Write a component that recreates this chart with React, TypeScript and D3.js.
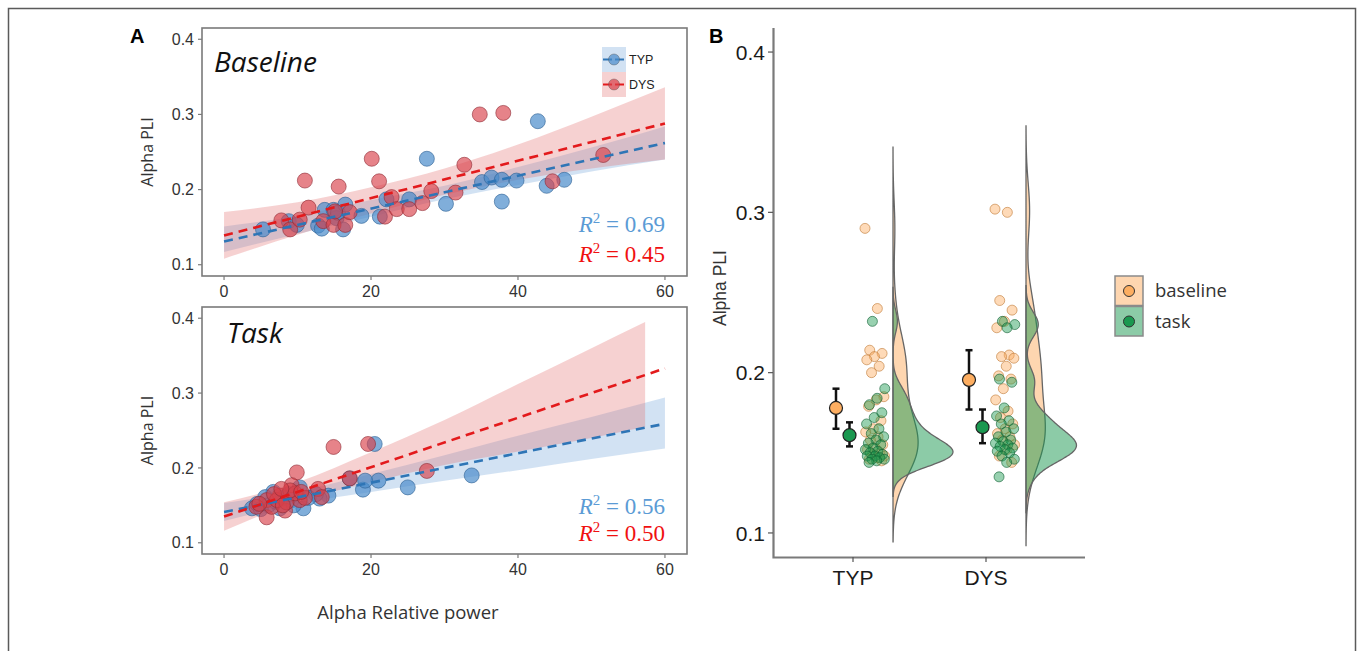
import * as d3 from 'd3';
import React, { useRef, useEffect } from 'react';

const W = 1360;
const H = 651;

// ---- panel A: alpha relative power (x) vs alpha PLI (y)
const baseTyp = [
  [5.3, 0.147], [8.8, 0.158], [9.9, 0.153], [12.8, 0.152], [13.3, 0.148],
  [13.7, 0.173], [14.9, 0.173], [15.3, 0.162], [15.5, 0.169], [16.2, 0.147],
  [16.5, 0.18], [18.7, 0.165], [21.2, 0.164], [22.1, 0.187], [25.2, 0.187],
  [27.6, 0.241], [30.2, 0.181], [35.1, 0.21], [36.4, 0.216], [37.8, 0.213],
  [37.8, 0.184], [39.8, 0.212], [42.7, 0.291], [43.9, 0.205], [46.3, 0.213],
];
const baseDys = [
  [7.8, 0.159], [9.0, 0.147], [10.3, 0.16], [11.0, 0.212], [11.5, 0.176],
  [13.5, 0.158], [14.9, 0.153], [15.1, 0.171], [15.6, 0.204], [16.5, 0.153],
  [17.1, 0.17], [20.1, 0.241], [21.1, 0.211], [21.9, 0.164], [22.8, 0.19],
  [23.5, 0.174], [25.2, 0.174], [27.0, 0.182], [28.2, 0.198], [31.5, 0.196],
  [32.7, 0.233], [34.8, 0.3], [38.0, 0.302], [44.7, 0.211], [51.6, 0.246],
];
const taskTyp = [
  [20.5, 0.232], [33.7, 0.19], [25.0, 0.174], [21.0, 0.183], [18.9, 0.171],
  [19.2, 0.183], [17.1, 0.186], [14.2, 0.163], [13.0, 0.159], [10.8, 0.146],
  [3.8, 0.146], [6.7, 0.168], [5.6, 0.161], [9.2, 0.157], [7.6, 0.146],
  [10.3, 0.174], [4.5, 0.152], [6.0, 0.15], [8.0, 0.16], [9.5, 0.15],
  [12.5, 0.165], [5.0, 0.145], [7.0, 0.155], [11.5, 0.16], [8.8, 0.165],
];
const taskDys = [
  [14.9, 0.228], [19.6, 0.232], [9.9, 0.194], [27.6, 0.196], [12.8, 0.172],
  [13.3, 0.161], [9.2, 0.177], [7.6, 0.163], [5.8, 0.157], [5.8, 0.134],
  [4.4, 0.148], [6.5, 0.148], [8.3, 0.143], [10.3, 0.157], [7.2, 0.157],
  [8.5, 0.154], [9.7, 0.166], [17.1, 0.186], [6.8, 0.165], [9.0, 0.17],
  [11.0, 0.16], [4.8, 0.152], [8.0, 0.15], [10.5, 0.168], [7.8, 0.172],
];

// fitted lines (value at x = 0 and x = 60)
const fitX = [0, 60];
const fitBaseTyp = [0.131, 0.262];
const fitBaseDys = [0.139, 0.288];
const fitTaskTyp = [0.141, 0.259];
const fitTaskDys = [0.135, 0.333];

// confidence bands
const bandX = [0, 10, 20, 30, 40, 50, 60];
const bandXTaskDys = [0, 10, 20, 30, 40, 50, 57.3];
const bandBaseTypLo = [0.117, 0.141, 0.164, 0.187, 0.206, 0.224, 0.24];
const bandBaseTypHi = [0.151, 0.165, 0.186, 0.205, 0.23, 0.256, 0.284];
const bandBaseDysLo = [0.108, 0.14, 0.168, 0.193, 0.213, 0.228, 0.24];
const bandBaseDysHi = [0.17, 0.183, 0.203, 0.228, 0.26, 0.297, 0.336];
const bandTaskTypLo = [0.129, 0.152, 0.168, 0.183, 0.197, 0.212, 0.226];
const bandTaskTypHi = [0.153, 0.169, 0.192, 0.217, 0.243, 0.268, 0.294];
const bandTaskDysLo = [0.116, 0.155, 0.181, 0.204, 0.222, 0.24, 0.255];
const bandTaskDysHi = [0.154, 0.181, 0.221, 0.264, 0.312, 0.36, 0.395];

const r2Base = ['0.69', '0.45'];
const r2Task = ['0.56', '0.50'];

const ticksAx = [0, 20, 40, 60];
const ticksY = [0.1, 0.2, 0.3, 0.4];

// ---- panel B: raincloud of alpha PLI
const groups = ['TYP', 'DYS'];
const conditions = ['baseline', 'task'];
const typBaseline = [
  0.29, 0.24, 0.214, 0.212, 0.21, 0.208, 0.204, 0.2, 0.185, 0.183, 0.179, 0.17, 0.165,
  0.163, 0.16, 0.158, 0.155, 0.153, 0.152, 0.15, 0.149, 0.148, 0.147, 0.146, 0.145,
];
const typTask = [
  0.232, 0.19, 0.184, 0.18, 0.175, 0.172, 0.168, 0.165, 0.162, 0.16, 0.158, 0.156, 0.155,
  0.153, 0.152, 0.151, 0.15, 0.149, 0.148, 0.148, 0.147, 0.146, 0.146, 0.145, 0.144,
];
const dysBaseline = [
  0.302, 0.3, 0.245, 0.239, 0.232, 0.228, 0.211, 0.21, 0.209, 0.204, 0.198, 0.196, 0.19,
  0.183, 0.176, 0.172, 0.168, 0.165, 0.162, 0.16, 0.158, 0.155, 0.152, 0.148, 0.144,
];
const dysTask = [
  0.232, 0.23, 0.228, 0.196, 0.194, 0.178, 0.173, 0.17, 0.168, 0.165, 0.163, 0.16, 0.158,
  0.157, 0.156, 0.155, 0.154, 0.153, 0.152, 0.151, 0.15, 0.148, 0.146, 0.144, 0.135,
];
const meanBaseline = [0.178, 0.1955];
const loBaseline = [0.165, 0.177];
const hiBaseline = [0.19, 0.214];
const meanTask = [0.161, 0.166];
const loTask = [0.154, 0.156];
const hiTask = [0.169, 0.177];

const blue = '#2E75B6';
const red = '#E31A1C';
const orange = '#FDAE61';
const green = '#1A9850';
const sans = 'Liberation Sans, Arial, sans-serif';
const text2 = 'Open Sans, sans-serif';

const xA = d3.scaleLinear().domain([-3, 63]).range([202, 687]);
const yTop = d3.scaleLinear().domain([0.085, 0.415]).range([276, 28]);
const yBot = d3.scaleLinear().domain([0.085, 0.415]).range([554, 307]);
const yB = d3.scaleLinear().domain([0.085, 0.415]).range([557, 28]);
const xB = d3.scalePoint().domain(groups).range([853, 986]);

function nrd0(v) {
  const s = v.slice().sort(d3.ascending);
  const iqr = d3.quantile(s, 0.75) - d3.quantile(s, 0.25);
  return 0.9 * Math.min(d3.deviation(s), iqr / 1.34) * Math.pow(s.length, -0.2);
}

function kde(v) {
  const bw = nrd0(v);
  const lo = d3.min(v) - 3 * bw;
  const hi = d3.max(v) + 3 * bw;
  return d3.range(0, 201).map((i) => {
    const t = lo + ((hi - lo) * i) / 200;
    const d = d3.mean(v, (x) => Math.exp(-0.5 * ((t - x) / bw) ** 2)) / (bw * Math.sqrt(2 * Math.PI));
    return [t, d];
  });
}

function drawScatter(svg, y, opt) {
  const g = svg.append('g');
  const [x0, x1] = xA.range();
  const [yb, yt] = y.range();

  const area = d3
    .area()
    .x((d) => xA(d[0]))
    .y0((d) => y(d[1]))
    .y1((d) => y(d[2]))
    .curve(d3.curveMonotoneX);
  const line = d3
    .line()
    .x((d) => xA(d[0]))
    .y((d) => y(d[1]));

  opt.bands.forEach((b) => {
    g.append('path')
      .datum(b.x.map((v, i) => [v, b.lo[i], b.hi[i]]))
      .attr('d', area)
      .attr('fill', b.fill)
      .attr('fill-opacity', 0.3);
  });

  opt.points.forEach((p) => {
    g.append('g')
      .selectAll('circle')
      .data(p.data)
      .join('circle')
      .attr('cx', (d) => xA(d[0]))
      .attr('cy', (d) => y(d[1]))
      .attr('r', 7.5)
      .attr('fill', p.fill)
      .attr('fill-opacity', p.op)
      .attr('stroke', p.stroke)
      .attr('stroke-opacity', 0.6)
      .attr('stroke-width', 1);
  });

  opt.fits.forEach((f) => {
    g.append('path')
      .datum(fitX.map((v, i) => [v, f.v[i]]))
      .attr('d', line)
      .attr('fill', 'none')
      .attr('stroke', f.color)
      .attr('stroke-width', 2.6)
      .attr('stroke-dasharray', '9,6');
  });

  // box
  g.append('rect')
    .attr('x', x0)
    .attr('y', yt)
    .attr('width', x1 - x0)
    .attr('height', yb - yt)
    .attr('fill', 'none')
    .attr('stroke', '#7a7a7a')
    .attr('stroke-width', 1.6);

  // y axis
  ticksY.forEach((t) => {
    g.append('line')
      .attr('x1', x0 - 4)
      .attr('x2', x0)
      .attr('y1', y(t))
      .attr('y2', y(t))
      .attr('stroke', '#7a7a7a')
      .attr('stroke-width', 1.2);
    g.append('text')
      .attr('x', x0 - 8)
      .attr('y', y(t))
      .attr('dy', '0.35em')
      .attr('text-anchor', 'end')
      .attr('font-family', sans)
      .attr('font-size', 16)
      .attr('fill', '#333')
      .text(d3.format('.1f')(t));
  });
  ticksAx.forEach((t) => {
    g.append('line')
      .attr('x1', xA(t))
      .attr('x2', xA(t))
      .attr('y1', yb)
      .attr('y2', yb + 4)
      .attr('stroke', '#7a7a7a')
      .attr('stroke-width', 1.2);
    g.append('text')
      .attr('x', xA(t))
      .attr('y', yb + 21)
      .attr('text-anchor', 'middle')
      .attr('font-family', sans)
      .attr('font-size', 16)
      .attr('fill', '#333')
      .text(t);
  });

  g.append('text')
    .attr('transform', `translate(153,${(yb + yt) / 2}) rotate(-90)`)
    .attr('text-anchor', 'middle')
    .attr('font-family', text2)
    .attr('font-size', 16)
    .attr('fill', '#333')
    .text('Alpha PLI');

  g.append('text')
    .attr('x', opt.titleX)
    .attr('y', yt + opt.titleDy)
    .attr('font-family', text2)
    .attr('font-style', 'italic')
    .attr('font-size', 28)
    .attr('fill', '#111')
    .text(opt.title);

  // R^2 labels
  opt.r2.forEach((r, i) => {
    const t = g
      .append('text')
      .attr('x', 665)
      .attr('y', y(opt.r2y[i]))
      .attr('text-anchor', 'end')
      .attr('font-family', 'Liberation Serif, serif')
      .attr('font-size', 23)
      .attr('fill', i === 0 ? '#5B9BD5' : '#F01010');
    t.append('tspan').attr('font-style', 'italic').text('R');
    t.append('tspan').attr('font-size', 15).attr('dy', -9).text('2');
    t.append('tspan').attr('dy', 9).text(` = ${r}`);
  });

  if (opt.legend) {
    const keys = [
      { label: 'TYP', fill: '#6B9ED6', dot: '#4A8BCB', line: blue },
      { label: 'DYS', fill: '#E06666', dot: '#D9404A', line: red },
    ];
    keys.forEach((k, i) => {
      const ky = 47 + i * 25;
      g.append('rect')
        .attr('x', 602)
        .attr('y', ky)
        .attr('width', 24)
        .attr('height', 25)
        .attr('fill', k.fill)
        .attr('fill-opacity', 0.3);
      g.append('line')
        .attr('x1', 603)
        .attr('x2', 625)
        .attr('y1', ky + 12.5)
        .attr('y2', ky + 12.5)
        .attr('stroke', k.line)
        .attr('stroke-width', 2)
        .attr('stroke-dasharray', '9,3');
      g.append('circle')
        .attr('cx', 614)
        .attr('cy', ky + 12.5)
        .attr('r', 5.5)
        .attr('fill', k.dot)
        .attr('fill-opacity', 0.7)
        .attr('stroke', '#555')
        .attr('stroke-opacity', 0.4);
      g.append('text')
        .attr('x', 629)
        .attr('y', ky + 12.5)
        .attr('dy', '0.35em')
        .attr('font-family', sans)
        .attr('font-size', 12.5)
        .attr('fill', '#222')
        .text(k.label);
    });
  }
}

function drawRaincloud(svg) {
  const g = svg.append('g');
  const series = [
    { grp: 'TYP', cond: 0, v: typBaseline },
    { grp: 'TYP', cond: 1, v: typTask },
    { grp: 'DYS', cond: 0, v: dysBaseline },
    { grp: 'DYS', cond: 1, v: dysTask },
  ];
  const dens = series.map((s) => kde(s.v));
  const dMax = d3.max(dens, (d) => d3.max(d, (p) => p[1]));
  const wScale = d3.scaleLinear().domain([0, dMax]).range([0, 60]);
  const fills = [orange, green];
  const strokes = ['#C07A35', '#0D5E30'];

  // flat violins
  series.forEach((s, i) => {
    const base = xB(s.grp) + 40;
    const area = d3
      .area()
      .y((d) => yB(d[0]))
      .x0(base)
      .x1((d) => base + wScale(d[1]))
      .curve(d3.curveBasis);
    g.append('path')
      .datum(dens[i])
      .attr('d', area)
      .attr('fill', fills[s.cond])
      .attr('fill-opacity', 0.5)
      .attr('stroke', '#666')
      .attr('stroke-width', 1.3);
  });

  // jittered points
  series.forEach((s) => {
    const cx = xB(s.grp) + (s.grp === 'TYP' ? 22 : 19);
    g.append('g')
      .selectAll('circle')
      .data(s.v)
      .join('circle')
      .attr('cx', (d, i) => cx + (((i * 0.6180339887 + s.cond * 0.37) % 1) - 0.5) * 20)
      .attr('cy', (d) => yB(d))
      .attr('r', 5)
      .attr('fill', fills[s.cond])
      .attr('fill-opacity', 0.45)
      .attr('stroke', strokes[s.cond])
      .attr('stroke-opacity', 0.6);
  });

  // mean and interval
  const summ = [
    { off: -17, mean: meanBaseline, lo: loBaseline, hi: hiBaseline, fill: orange },
    { off: -3.5, mean: meanTask, lo: loTask, hi: hiTask, fill: green },
  ];
  summ.forEach((s) => {
    groups.forEach((grp, i) => {
      const x = xB(grp) + s.off;
      g.append('line')
        .attr('x1', x)
        .attr('x2', x)
        .attr('y1', yB(s.lo[i]))
        .attr('y2', yB(s.hi[i]))
        .attr('stroke', '#111')
        .attr('stroke-width', 2.5);
      [s.lo[i], s.hi[i]].forEach((v) => {
        g.append('line')
          .attr('x1', x - 3.5)
          .attr('x2', x + 3.5)
          .attr('y1', yB(v))
          .attr('y2', yB(v))
          .attr('stroke', '#111')
          .attr('stroke-width', 2.5);
      });
      g.append('circle')
        .attr('cx', x)
        .attr('cy', yB(s.mean[i]))
        .attr('r', 6.5)
        .attr('fill', s.fill)
        .attr('stroke', '#222')
        .attr('stroke-width', 1.2);
    });
  });

  // axes
  g.append('path')
    .attr('d', 'M773.5,28V557.5H1085')
    .attr('fill', 'none')
    .attr('stroke', '#7a7a7a')
    .attr('stroke-width', 2.2);
  ticksY.forEach((t) => {
    g.append('line')
      .attr('x1', 768)
      .attr('x2', 773)
      .attr('y1', yB(t))
      .attr('y2', yB(t))
      .attr('stroke', '#555')
      .attr('stroke-width', 1.2);
    g.append('text')
      .attr('x', 765)
      .attr('y', yB(t))
      .attr('dy', '0.36em')
      .attr('text-anchor', 'end')
      .attr('font-family', sans)
      .attr('font-size', 21)
      .attr('fill', '#1a1a1a')
      .text(d3.format('.1f')(t));
  });
  groups.forEach((grp) => {
    g.append('line')
      .attr('x1', xB(grp))
      .attr('x2', xB(grp))
      .attr('y1', 557)
      .attr('y2', 562)
      .attr('stroke', '#555')
      .attr('stroke-width', 1.2);
    g.append('text')
      .attr('x', xB(grp))
      .attr('y', 585)
      .attr('text-anchor', 'middle')
      .attr('font-family', sans)
      .attr('font-size', 21)
      .attr('fill', '#1a1a1a')
      .text(grp);
  });
  g.append('text')
    .attr('transform', 'translate(726,288) rotate(-90)')
    .attr('text-anchor', 'middle')
    .attr('font-family', sans)
    .attr('font-size', 17.5)
    .attr('fill', '#333')
    .text('Alpha PLI');

  // legend
  const bg = ['#FED6B0', '#8CCBA7'];
  conditions.forEach((c, i) => {
    const ly = 276 + i * 30.5;
    g.append('rect')
      .attr('x', 1115)
      .attr('y', ly)
      .attr('width', 28)
      .attr('height', 29.5)
      .attr('fill', bg[i])
      .attr('stroke', '#8a8a8a')
      .attr('stroke-width', 1.5);
    g.append('circle')
      .attr('cx', 1129)
      .attr('cy', ly + 15)
      .attr('r', 5.5)
      .attr('fill', fills[i])
      .attr('stroke', '#333');
    g.append('text')
      .attr('x', 1155)
      .attr('y', ly + 15)
      .attr('dy', '0.35em')
      .attr('font-family', text2)
      .attr('font-size', 18.5)
      .attr('fill', '#333')
      .text(c);
  });
}

function App() {
  const ref = useRef(null);

  useEffect(() => {
    const svg = d3.select(ref.current);
    svg.selectAll('*').remove();

    svg.append('rect')
      .attr('x', 8.5)
      .attr('y', 8.5)
      .attr('width', 1347)
      .attr('height', 700)
      .attr('fill', 'none')
      .attr('stroke', '#5a5a5a')
      .attr('stroke-width', 1.5);

    svg.append('text').attr('x', 130).attr('y', 43).attr('font-family', sans)
      .attr('font-weight', 'bold').attr('font-size', 20).text('A');
    svg.append('text').attr('x', 709).attr('y', 43).attr('font-family', sans)
      .attr('font-weight', 'bold').attr('font-size', 20).text('B');

    const pts = (typ, dys) => [
      { data: typ, fill: '#4A8BCB', op: 0.7, stroke: '#2B5F93' },
      { data: dys, fill: '#D9404A', op: 0.65, stroke: '#8E2A33' },
    ];

    drawScatter(svg, yTop, {
      title: 'Baseline',
      titleX: 214,
      titleDy: 44,
      bands: [
        { x: bandX, lo: bandBaseTypLo, hi: bandBaseTypHi, fill: '#6B9ED6' },
        { x: bandX, lo: bandBaseDysLo, hi: bandBaseDysHi, fill: '#E06666' },
      ],
      points: pts(baseTyp, baseDys),
      fits: [
        { v: fitBaseTyp, color: blue },
        { v: fitBaseDys, color: red },
      ],
      r2: r2Base,
      r2y: [0.143, 0.104],
      legend: true,
    });

    drawScatter(svg, yBot, {
      title: 'Task',
      titleX: 227,
      titleDy: 36,
      bands: [
        { x: bandX, lo: bandTaskTypLo, hi: bandTaskTypHi, fill: '#6B9ED6' },
        { x: bandXTaskDys, lo: bandTaskDysLo, hi: bandTaskDysHi, fill: '#E06666' },
      ],
      points: pts(taskTyp, taskDys),
      fits: [
        { v: fitTaskTyp, color: blue },
        { v: fitTaskDys, color: red },
      ],
      r2: r2Task,
      r2y: [0.139, 0.103],
      legend: false,
    });

    svg.append('text')
      .attr('x', 408)
      .attr('y', 619)
      .attr('text-anchor', 'middle')
      .attr('font-family', text2)
      .attr('font-size', 18.5)
      .attr('fill', '#333')
      .text('Alpha Relative power');

    drawRaincloud(svg);
  }, []);

  return (
    <svg
      ref={ref}
      width={W}
      height={H}
      style={{ position: 'absolute', left: 0, top: 0, background: '#fff' }}
    />
  );
}

export default App;
